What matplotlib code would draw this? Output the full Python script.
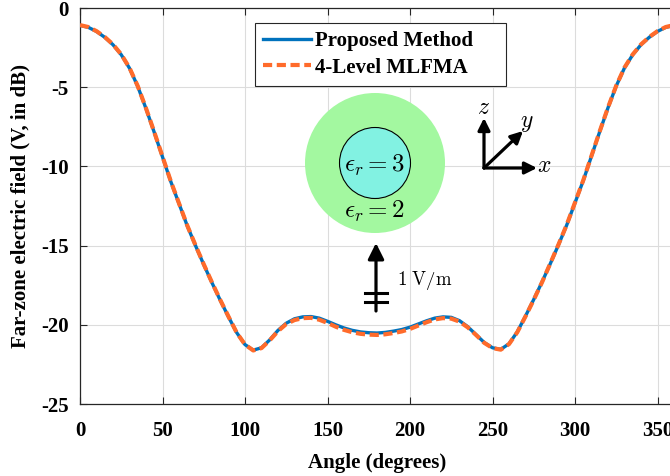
import numpy as np
import matplotlib
matplotlib.use("Agg")
import matplotlib.pyplot as plt
from matplotlib.patches import Circle

plt.rcParams["font.family"] = ["Liberation Serif", "DejaVu Serif"]
plt.rcParams["mathtext.fontset"] = "cm"
plt.rcParams["axes.unicode_minus"] = False

# far-zone field vs. angle (degrees, dB)
angle = list(range(0, 361, 5))
proposed = [-1.10, -1.22, -1.48, -1.85, -2.32, -2.95, -3.80, -4.95, -6.35, -7.85,
            -9.40, -10.95, -12.35, -13.75, -15.00, -16.20, -17.35, -18.45, -19.50, -20.50,
            -21.25, -21.60, -21.45, -20.95, -20.35, -19.90, -19.62, -19.50, -19.48, -19.58,
            -19.78, -20.00, -20.20, -20.35, -20.45, -20.50, -20.52,
            -20.48, -20.40, -20.30, -20.15, -19.95, -19.75, -19.58, -19.50, -19.53, -19.74,
            -20.12, -20.62, -21.12, -21.45, -21.55, -21.20, -20.45, -19.45, -18.40, -17.30,
            -16.15, -14.95, -13.70, -12.30, -10.90, -9.35, -7.80, -6.30, -4.92, -3.78,
            -2.95, -2.32, -1.85, -1.48, -1.22, -1.10]
mlfma = [-1.08, -1.20, -1.46, -1.83, -2.30, -2.93, -3.78, -4.93, -6.33, -7.83,
         -9.38, -10.93, -12.33, -13.73, -14.98, -16.18, -17.33, -18.43, -19.48, -20.50,
         -21.25, -21.62, -21.47, -20.98, -20.40, -19.95, -19.70, -19.58, -19.56, -19.68,
         -19.88, -20.12, -20.32, -20.47, -20.57, -20.62, -20.64,
         -20.60, -20.52, -20.42, -20.26, -20.05, -19.84, -19.66, -19.58, -19.61, -19.80,
         -20.16, -20.64, -21.14, -21.47, -21.57, -21.22, -20.47, -19.47, -18.42, -17.32,
         -16.13, -14.93, -13.68, -12.28, -10.88, -9.33, -7.78, -6.28, -4.90, -3.76,
         -2.93, -2.30, -1.83, -1.46, -1.20, -1.08]

xticks = [0, 50, 100, 150, 200, 250, 300, 350]
yticks = [-25, -20, -15, -10, -5, 0]

W, H = 670, 476
fig = plt.figure(figsize=(W / 100, H / 100), dpi=100)
ax = fig.add_axes([80 / W, 1 - 404 / H, 594 / W, 396 / H])

ax.plot(angle, proposed, color="#0072BD", linewidth=2.4, label="Proposed Method", zorder=3)
ax.plot(angle, mlfma, color="#FF6B2B", linewidth=3.0, linestyle=(0, (2.2, 1.1)),
        label="4-Level MLFMA", zorder=4)

ax.set_xlim(0, 360)
ax.set_ylim(-25, 0)
ax.set_xticks(xticks)
ax.set_yticks(yticks)
ax.grid(True, color="#dcdcdc", linewidth=0.8)
ax.set_axisbelow(True)
ax.tick_params(direction="in", length=5, width=0.8, color="#262626", top=True,
               labelsize=15)
ax.tick_params(axis="x", pad=12)
ax.tick_params(axis="y", pad=8)
for lab in ax.get_xticklabels() + ax.get_yticklabels():
    lab.set_fontweight("bold")
for sp in ax.spines.values():
    sp.set_color("#262626")
    sp.set_linewidth(0.9)

ax.set_xlabel("Angle (degrees)", fontsize=15, fontweight="bold", labelpad=9)
ax.set_ylabel("Far-zone electric field (V, in dB)", fontsize=15, fontweight="bold", labelpad=8)

leg = ax.legend(loc="upper left", bbox_to_anchor=(255 / W, 1 - 87 / H, 251 / W, 64 / H),
                bbox_transform=fig.transFigure, mode="expand", borderaxespad=0,
                fancybox=False, edgecolor="#262626", framealpha=1, handlelength=2.3,
                labelspacing=0.3, borderpad=0.4, handletextpad=0.2,
                prop={"weight": "bold", "size": 15})
leg.get_frame().set_linewidth(0.8)

# sketch of the scatterer and incident wave, in pixel coordinates
ov = fig.add_axes([0, 0, 1, 1], zorder=5)
ov.set_xlim(0, W)
ov.set_ylim(H, 0)
ov.axis("off")

ov.add_patch(Circle((375, 163), 70, facecolor="#a3f8a0", edgecolor="none"))
ov.add_patch(Circle((375, 163), 35.5, facecolor="#82f2e2", edgecolor="black", linewidth=0.8))
ov.text(375, 165, r"$\epsilon_r = 3$", fontsize=18, ha="center", va="center")
ov.text(375, 211, r"$\epsilon_r = 2$", fontsize=18, ha="center", va="center")

arrow = dict(arrowstyle="-|>", color="black", linewidth=2.3, mutation_scale=18,
             shrinkA=0, shrinkB=0)
o = (484, 168)
ov.annotate("", xy=(484, 118), xytext=o, arrowprops=arrow)
ov.annotate("", xy=(537, 168), xytext=o, arrowprops=arrow)
ov.annotate("", xy=(523, 131), xytext=o, arrowprops=arrow)
ov.text(484, 108, r"$z$", fontsize=17, ha="center", va="center")
ov.text(527, 123, r"$y$", fontsize=17, ha="center", va="center")
ov.text(544, 166, r"$x$", fontsize=17, ha="center", va="center")

ov.annotate("", xy=(376, 243), xytext=(376, 311),
            arrowprops=dict(arrowstyle="-|>", color="black", linewidth=2.3,
                            mutation_scale=24, shrinkA=0, shrinkB=0))
ov.plot([365, 387], [293, 293], color="black", linewidth=2.2)
ov.plot([365, 387], [302, 302], color="black", linewidth=2.2)
ov.text(397, 280, r"$1\ \mathrm{V/m}$", fontsize=13.5, ha="left", va="center")

fig.savefig("out.png", dpi=100)
